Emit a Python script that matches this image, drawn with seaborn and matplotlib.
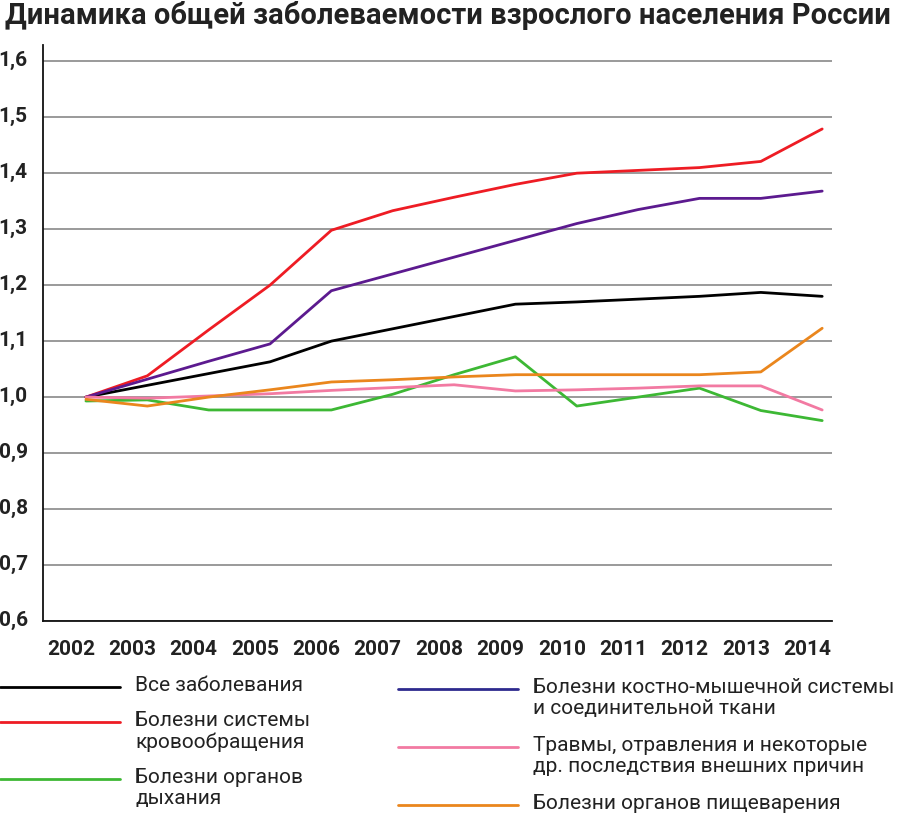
import matplotlib
matplotlib.use("Agg")
import matplotlib.pyplot as plt
import matplotlib.transforms as mtransforms
from matplotlib.lines import Line2D
from matplotlib import font_manager
import seaborn as sns
import pandas as pd

# ---------------- data ----------------
years = list(range(2002, 2015))
all_diseases    = [1.000, 1.021, 1.042, 1.063, 1.100, 1.122, 1.144, 1.166, 1.170, 1.175, 1.180, 1.187, 1.180]
circulatory     = [1.000, 1.038, 1.120, 1.200, 1.298, 1.333, 1.357, 1.380, 1.400, 1.405, 1.410, 1.421, 1.479]
respiratory     = [0.993, 0.995, 0.977, 0.977, 0.977, 1.005, 1.040, 1.072, 0.984, 1.000, 1.016, 0.976, 0.958]
musculoskeletal = [1.000, 1.032, 1.064, 1.095, 1.190, 1.220, 1.250, 1.280, 1.310, 1.335, 1.355, 1.355, 1.368]
injuries        = [1.000, 0.998, 1.002, 1.006, 1.012, 1.017, 1.022, 1.011, 1.013, 1.016, 1.020, 1.020, 0.977]
digestive       = [0.996, 0.984, 1.000, 1.013, 1.027, 1.031, 1.036, 1.040, 1.040, 1.040, 1.040, 1.045, 1.123]

series_names = ["Все заболевания",
                "Болезни системы кровообращения",
                "Болезни органов дыхания",
                "Болезни костно-мышечной системы и соединительной ткани",
                "Травмы, отравления и некоторые др. последствия внешних причин",
                "Болезни органов пищеварения"]
legend_labels = ["Все заболевания",
                 "Болезни системы\nкровообращения",
                 "Болезни органов\nдыхания",
                 "Болезни костно-мышечной системы\nи соединительной ткани",
                 "Травмы, отравления и некоторые\nдр. последствия внешних причин",
                 "Болезни органов пищеварения"]
series_values = [all_diseases, circulatory, respiratory, musculoskeletal, injuries, digestive]
colors = ["#000000", "#ee1c24", "#3db834", "#5c1a8f", "#f27aa2", "#ea861d"]
legend_colors = ["#000000", "#ee1c24", "#3db834", "#2e2a8e", "#f27aa2", "#ea861d"]

y_ticks = [0.6, 0.7, 0.8, 0.9, 1.0, 1.1, 1.2, 1.3, 1.4, 1.5, 1.6]
y_tick_labels = ["0,6", "0,7", "0,8", "0,9", "1,0", "1,1", "1,2", "1,3", "1,4", "1,5", "1,6"]
title = "Динамика общей заболеваемости взрослого населения России"

# ---------------- style ----------------
sns.set_theme(style="white")
available = {f.name for f in font_manager.fontManager.ttflist}
main_font = next((f for f in ["Liberation Sans Narrow", "Roboto", "Open Sans", "Noto Sans"] if f in available), "DejaVu Sans")
plt.rcParams["font.family"] = [main_font, "DejaVu Sans"]

W, H = 900, 820
fig = plt.figure(figsize=(W / 100, H / 100), dpi=100)
ax = fig.add_axes([43 / W, 1 - 622 / H, (832 - 43) / W, (622 - 46) / H])

rows = []
for name, vals in zip(series_names, series_values):
    for yr, v in zip(years, vals):
        rows.append({"year": yr, "value": v, "series": name})
df = pd.DataFrame(rows)

sns.lineplot(data=df, x="year", y="value", hue="series", hue_order=series_names,
             palette=dict(zip(series_names, colors)), linewidth=2.0,
             estimator=None, sort=False, legend=False, ax=ax)

ax.set_xlim(2001.30, 2014.16)
ax.set_ylim(0.6, 1.629)
ax.set_xlabel("")
ax.set_ylabel("")
ax.set_yticks(y_ticks)
ax.set_yticklabels(y_tick_labels, fontsize=15, fontweight="bold", color="#222222")
ax.set_xticks(years)
ax.set_xticklabels([str(y) for y in years], fontsize=15, fontweight="bold", color="#222222")
ax.tick_params(axis="y", length=0, pad=11)
ax.tick_params(axis="x", length=0, pad=13)
ax.yaxis.grid(True, color="#9a9a9a", linewidth=1.4)
ax.xaxis.grid(False)
ax.set_axisbelow(True)
for s in ["top", "right"]:
    ax.spines[s].set_visible(False)
for s in ["left", "bottom"]:
    ax.spines[s].set_color("#111111")
    ax.spines[s].set_linewidth(1.3)

# shift tick labels slightly like the reference
for lab in ax.get_xticklabels():
    lab.set_transform(lab.get_transform() + mtransforms.ScaledTranslation(-15 / 100, 0, fig.dpi_scale_trans))
for lab in ax.get_yticklabels():
    lab.set_transform(lab.get_transform() + mtransforms.ScaledTranslation(0, 4 / 100, fig.dpi_scale_trans))

fig.text(5 / W, 1 - 16 / H, title, fontsize=21, fontweight="bold", va="center", ha="left", color="#222222")

# ---------------- legend (manual two-column layout) ----------------
leg_pos = [(0, 120, 135, 688), (0, 120, 135, 723), (0, 120, 135, 780),
           (398, 518, 533, 690), (398, 518, 533, 748), (398, 518, 533, 806)]
for (x0, x1, xt, yy), lab, c in zip(leg_pos, legend_labels, legend_colors):
    fig.add_artist(Line2D([x0 / W, x1 / W], [1 - yy / H, 1 - yy / H], color=c, linewidth=2.0,
                          transform=fig.transFigure))
    fig.text(xt / W, 1 - (yy - 12) / H, lab, fontsize=15, va="top", ha="left",
             color="#222222", linespacing=1.15)

fig.savefig("out.png", dpi=100)
